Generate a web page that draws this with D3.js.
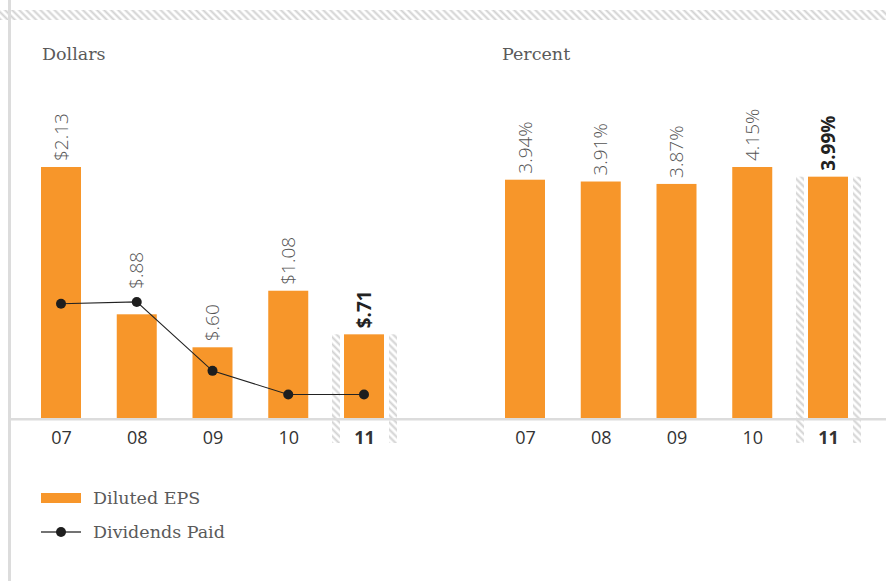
<!DOCTYPE html>
<html>
<head>
<meta charset="utf-8">
<script src="https://cdn.jsdelivr.net/npm/d3@7"></script>
<style>
  html, body { margin: 0; padding: 0; background: #fff; }
  svg { display: block; }
</style>
</head>
<body>
<svg id="chart" width="886" height="581"></svg>
<script>
// ---- data ----
const years = ["07", "08", "09", "10", "11"];
const dilutedEPS = [2.13, 0.88, 0.60, 1.08, 0.71];
const dividendsPaid = [0.97, 0.985, 0.40, 0.20, 0.20];
const yieldPercent = [3.94, 3.91, 3.87, 4.15, 3.99];
const epsLabels = ["$2.13", "$.88", "$.60", "$1.08", "$.71"];
const pctLabels = ["3.94%", "3.91%", "3.87%", "4.15%", "3.99%"];
const panelTitles = ["Dollars", "Percent"];
const legendLabels = ["Diluted EPS", "Dividends Paid"];
const highlightYear = "11";

// ---- style ----
const W = 886, H = 581;
const ORANGE = "#F7962A";
const GRID = "#dcdcdc";
const baseY = 418, topY = 167;
const barW = 40;
const serif = "'DejaVu Serif', serif";
const sans = "'Open Sans', sans-serif";

const svg = d3.select("#chart");
const defs = svg.append("defs");
const pat = defs.append("pattern")
  .attr("id", "hatch").attr("patternUnits", "userSpaceOnUse")
  .attr("width", 5).attr("height", 5)
  .attr("patternTransform", "rotate(-45)");
pat.append("rect").attr("width", 5).attr("height", 5).attr("fill", "#fff");
pat.append("line").attr("x1", 1.5).attr("x2", 1.5).attr("y1", 0).attr("y2", 5)
  .attr("stroke", "#d2d2d2").attr("stroke-width", 2);

// top hatched strip
svg.append("rect").attr("x", 0).attr("y", 10).attr("width", W).attr("height", 10)
  .attr("fill", "url(#hatch)");
// left vertical rule
svg.append("rect").attr("x", 8).attr("y", 0).attr("width", 3).attr("height", H)
  .attr("fill", GRID);

function panel(opts) {
  const x = d3.scalePoint().domain(years).range(opts.xr);
  const y = d3.scaleLinear().domain([0, d3.max(opts.values)]).range([baseY, topY]);
  const g = svg.append("g");

  // title
  g.append("text").attr("x", opts.titleX).attr("y", 60)
    .attr("font-family", serif).attr("font-size", 17.5).attr("fill", "#5a5a5a")
    .text(opts.title);

  // highlight hatch columns
  const hi = years.indexOf(highlightYear);
  const hy = y(opts.values[hi]);
  [[-32, -24], [25, 33]].forEach(([a, b]) => {
    g.append("rect").attr("x", x(highlightYear) + a).attr("y", hy)
      .attr("width", b - a).attr("height", 443 - hy)
      .attr("fill", "url(#hatch)");
  });

  // bars
  g.selectAll("rect.bar").data(years).join("rect").attr("class", "bar")
    .attr("x", d => x(d) - barW / 2)
    .attr("y", (d, i) => y(opts.values[i]))
    .attr("width", barW)
    .attr("height", (d, i) => baseY - y(opts.values[i]))
    .attr("fill", ORANGE);

  // value labels (placed above the bar, or above the line marker if higher)
  const labelBase = i => {
    let top = y(opts.values[i]);
    if (opts.line) top = Math.min(top, y(opts.line[i]) - 7);
    return top - 6;
  };
  g.selectAll("text.val").data(years).join("text").attr("class", "val")
    .attr("transform", (d, i) => `translate(${x(d) + 6.5},${labelBase(i)}) rotate(-90)`)
    .attr("font-family", sans).attr("font-size", 19)
    .attr("font-weight", d => d === highlightYear ? 700 : 300)
    .attr("fill", d => d === highlightYear ? "#222" : "#555")
    .text((d, i) => opts.labels[i]);

  if (opts.line) {
    const line = d3.line().x((d, i) => x(years[i])).y(d => y(d));
    g.append("path").datum(opts.line).attr("d", line)
      .attr("fill", "none").attr("stroke", "#222").attr("stroke-width", 1.1);
    g.selectAll("circle.dot").data(opts.line).join("circle").attr("class", "dot")
      .attr("cx", (d, i) => x(years[i])).attr("cy", d => y(d)).attr("r", 5)
      .attr("fill", "#1e1e1e");
  }

  // x axis labels
  const ax = g.append("g").attr("transform", `translate(0,${baseY + 13})`)
    .call(d3.axisBottom(x).tickSize(0).tickPadding(0));
  ax.select(".domain").remove();
  ax.selectAll("text")
    .attr("font-family", sans).attr("font-size", 18)
    .attr("fill", "#333")
    .attr("font-weight", d => d === highlightYear ? 700 : 400);
  return { x, y };
}

panel({ xr: [61, 364], values: dilutedEPS, labels: epsLabels, title: panelTitles[0], titleX: 42, line: dividendsPaid });
panel({ xr: [525, 828], values: yieldPercent, labels: pctLabels, title: panelTitles[1], titleX: 502 });

// baseline rule
svg.append("rect").attr("x", 9).attr("y", baseY).attr("width", W - 9).attr("height", 2.5)
  .attr("fill", GRID);

// legend
const lg = svg.append("g");
lg.append("rect").attr("x", 41).attr("y", 493).attr("width", 40).attr("height", 10).attr("fill", ORANGE);
lg.append("line").attr("x1", 41).attr("x2", 81).attr("y1", 532).attr("y2", 532)
  .attr("stroke", "#444").attr("stroke-width", 1.3);
lg.append("circle").attr("cx", 61).attr("cy", 532).attr("r", 5).attr("fill", "#1e1e1e");
lg.selectAll("text").data(legendLabels).join("text")
  .attr("x", 93).attr("y", (d, i) => 504 + i * 34)
  .attr("font-family", serif).attr("font-size", 17.5).attr("fill", "#5a5a5a")
  .text(d => d);
</script>
</body>
</html>
